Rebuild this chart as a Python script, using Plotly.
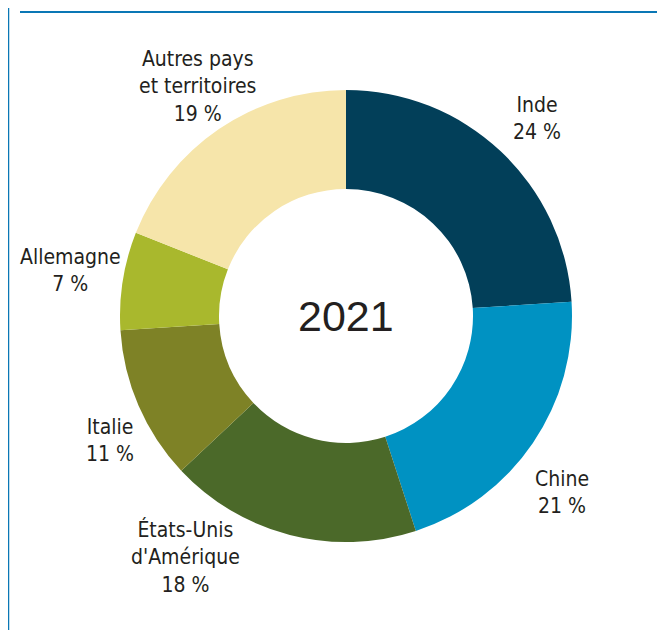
import plotly.graph_objects as go

countries = ["Inde", "Chine", "États-Unis<br>d'Amérique", "Italie", "Allemagne", "Autres pays<br>et territoires"]
shares = [24, 21, 18, 11, 7, 19]
colors = ["#023f59", "#0092c2", "#4b6929", "#7e8226", "#a9b82d", "#f6e5aa"]
year = "2021"

OFF = 8  # page body margin
W, H = 669 - OFF, 630 - OFF
cx, cy, R = 346 - OFF, 316 - OFF, 226

fig = go.Figure(go.Pie(
    values=shares,
    labels=[c.replace("<br>", " ") for c in countries],
    sort=False,
    direction="clockwise",
    rotation=0,
    hole=0.562,
    marker=dict(colors=colors, line=dict(width=0)),
    textinfo="none",
    hoverinfo="label+percent",
    showlegend=False,
    domain=dict(x=[(cx - R) / W, (cx + R) / W], y=[(H - cy - R) / H, (H - cy + R) / H]),
))

label_pos = [(537, 118), (562, 492), (185, 557), (110, 440), (70, 270), (198, 87)]
font_lab = dict(family="Liberation Sans Narrow, DejaVu Sans Condensed, Arial Narrow, sans-serif", size=21, color="#231f20")
annotations = []
for name, val, (px, py) in zip(countries, shares, label_pos):
    annotations.append(dict(
        x=(px - OFF) / W, y=1 - (py - OFF) / H, xref="paper", yref="paper",
        text=f"{name}<br>{val} %", showarrow=False, align="center",
        xanchor="center", yanchor="middle", font=font_lab,
    ))
annotations.append(dict(
    x=cx / W, y=1 - cy / H, xref="paper", yref="paper", text=year, showarrow=False,
    xanchor="center", yanchor="middle",
    font=dict(family="Liberation Sans, Arial, sans-serif", size=43, color="#231f20"),
))

shapes = [
    dict(type="line", xref="paper", yref="paper", x0=(20 - OFF) / W, x1=(657 - OFF) / W,
         y0=1 - (12 - OFF) / H, y1=1 - (12 - OFF) / H,
         line=dict(color="#0a77b5", width=2)),
    dict(type="line", xref="paper", yref="paper", x0=0.5 / W, x1=0.5 / W, y0=0, y1=1,
         line=dict(color="#0a77b5", width=1.5)),
]

fig.update_layout(
    width=W, height=H,
    margin=dict(l=0, r=0, t=0, b=0),
    paper_bgcolor="white", plot_bgcolor="white",
    annotations=annotations, shapes=shapes,
)

fig.write_html("out.html")
